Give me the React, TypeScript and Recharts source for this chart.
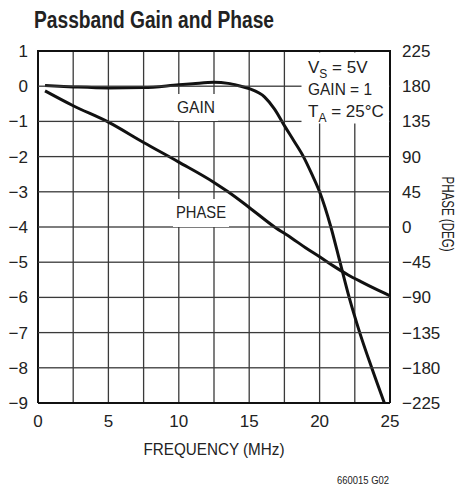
import { ComposedChart, Line, XAxis, YAxis, CartesianGrid } from "recharts";

const FONT = "'Liberation Sans Narrow', 'Liberation Sans', Arial, sans-serif";

// gain (dB) vs frequency (MHz)
const gainFreq = [0.5, 2.5, 5, 7.5, 10, 11, 12.5, 13.5, 14.2, 15, 16.1, 16.8, 17.5, 18.2, 18.85, 19.45, 20, 20.8, 21.45, 22.1, 22.85, 23.7, 24.6];
const gainDb = [0.02, -0.02, -0.05, -0.04, 0.04, 0.07, 0.11, 0.08, 0.02, -0.07, -0.31, -0.65, -1.12, -1.57, -2, -2.5, -3, -4, -5, -6, -7, -8, -9];

// phase (deg) vs frequency (MHz)
const phaseFreq = [0.5, 2.5, 5, 7.5, 10, 12.5, 13.5, 15, 16.8, 18, 19, 20, 21, 22, 23, 24, 25];
const phaseDeg = [174, 155, 134, 108, 83, 57, 45, 25, 0, -14, -26.5, -38, -50, -61, -70.5, -79.5, -88];

const xTicks = [0, 5, 10, 15, 20, 25];
const gridX = [2.5, 5, 7.5, 10, 12.5, 15, 17.5, 20, 22.5];
const gridY = [-8, -7, -6, -5, -4, -3, -2, -1, 0];
const gainTicks = [-9, -8, -7, -6, -5, -4, -3, -2, -1, 0, 1];
const phaseTicks = [-225, -180, -135, -90, -45, 0, 45, 90, 135, 180, 225];

// one table on a shared frequency column, gaps bridged by connectNulls
const allFreq = Array.from(new Set([...gainFreq, ...phaseFreq])).sort((a, b) => a - b);
const data = allFreq.map((f) => {
  const gi = gainFreq.indexOf(f);
  const pi = phaseFreq.indexOf(f);
  return { f, gain: gi >= 0 ? gainDb[gi] : null, phase: pi >= 0 ? phaseDeg[pi] : null };
});

const W = 459;
const H = 491;
const margin = { top: 51, right: 29, bottom: 58, left: 8 };
const leftAxisW = 30;
const rightAxisW = 40;
const xAxisH = 30;
const plotL = margin.left + leftAxisW;
const plotR = W - margin.right - rightAxisW;
const plotT = margin.top;
const plotB = H - margin.bottom - xAxisH;
// pixel row of a gain level, for the horizontal rules
const rowY = (v: number) => plotT + ((1 - v) / 10) * (plotB - plotT);

const minus = (v: number) => String(v).replace("-", "\u2212");
const tickStyle = { fill: "#222", fontSize: 17, fontFamily: FONT };
const gridStroke = "#3a3a3a";

export default function App() {
  return (
    <div style={{ position: "absolute", left: 0, top: 0, width: W, height: H, background: "#fff" }}>
      <ComposedChart width={W} height={H} data={data} margin={margin}>
        <CartesianGrid verticalValues={gridX} horizontal={false} stroke={gridStroke} strokeWidth={1.3} />
        <XAxis
          dataKey="f"
          type="number"
          domain={[0, 25]}
          ticks={xTicks}
          tickLine={false}
          tickSize={0}
          tickMargin={12}
          stroke="#111"
          strokeWidth={2}
          height={xAxisH}
          tick={tickStyle}
        />
        <YAxis
          domain={[-9, 1]}
          ticks={gainTicks}
          tickFormatter={minus}
          tickLine={false}
          tickSize={0}
          tickMargin={10}
          stroke="#111"
          strokeWidth={2}
          width={leftAxisW}
          tick={tickStyle}
        />
        <YAxis
          yAxisId="phase"
          orientation="right"
          domain={[-225, 225]}
          ticks={phaseTicks}
          tickFormatter={minus}
          tickLine={false}
          tickSize={0}
          tickMargin={12}
          stroke="#111"
          strokeWidth={2}
          width={rightAxisW}
          tick={tickStyle}
        />
        <Line dataKey="gain" type="monotone" connectNulls stroke="#111" strokeWidth={3} dot={false} isAnimationActive={false} />
        <Line yAxisId="phase" dataKey="phase" type="monotone" connectNulls stroke="#111" strokeWidth={3} dot={false} isAnimationActive={false} />
      </ComposedChart>
      <svg width={W} height={H} style={{ position: "absolute", left: 0, top: 0, pointerEvents: "none" }} fontFamily={FONT} fill="#222">
        {gridY.map((v) => (
          <rect key={v} x={plotL} y={rowY(v) - 0.65} width={plotR - plotL} height={1.3} fill={gridStroke} />
        ))}
        <rect x={plotL - 1} y={plotT - 1} width={plotR - plotL + 2} height={2} fill="#111" />
        <text x={34} y={28} fontSize={23} fontWeight="bold" textLength={240} lengthAdjust="spacingAndGlyphs">Passband Gain and Phase</text>
        <rect x={174} y={94} width={44} height={27} fill="#fff" />
        <text x={177} y={113} fontSize={17} textLength={38} lengthAdjust="spacingAndGlyphs">GAIN</text>
        <rect x={173} y={199} width={56} height={28} fill="#fff" />
        <text x={176} y={218} fontSize={17} textLength={50} lengthAdjust="spacingAndGlyphs">PHASE</text>
        <rect x={301.5} y={52.5} width={87.5} height={71} fill="#fff" />
        <text x={308} y={73} fontSize={17}>
          V<tspan fontSize={12} dy={5}>S</tspan><tspan dy={-5}> = 5V</tspan>
        </text>
        <text x={308} y={95} fontSize={17} textLength={64} lengthAdjust="spacingAndGlyphs">GAIN = 1</text>
        <text x={308} y={117} fontSize={17}>
          T<tspan fontSize={12} dy={5}>A</tspan><tspan dy={-5}> = 25°C</tspan>
        </text>
        <text x={214} y={455} fontSize={17} textAnchor="middle" textLength={141} lengthAdjust="spacingAndGlyphs">FREQUENCY (MHz)</text>
        <text transform="translate(442,214) rotate(90)" fontSize={17} textAnchor="middle" textLength={75} lengthAdjust="spacingAndGlyphs">PHASE (DEG)</text>
        <text x={337} y={484} fontSize={10.5} textLength={52} lengthAdjust="spacingAndGlyphs">660015 G02</text>
      </svg>
    </div>
  );
}
